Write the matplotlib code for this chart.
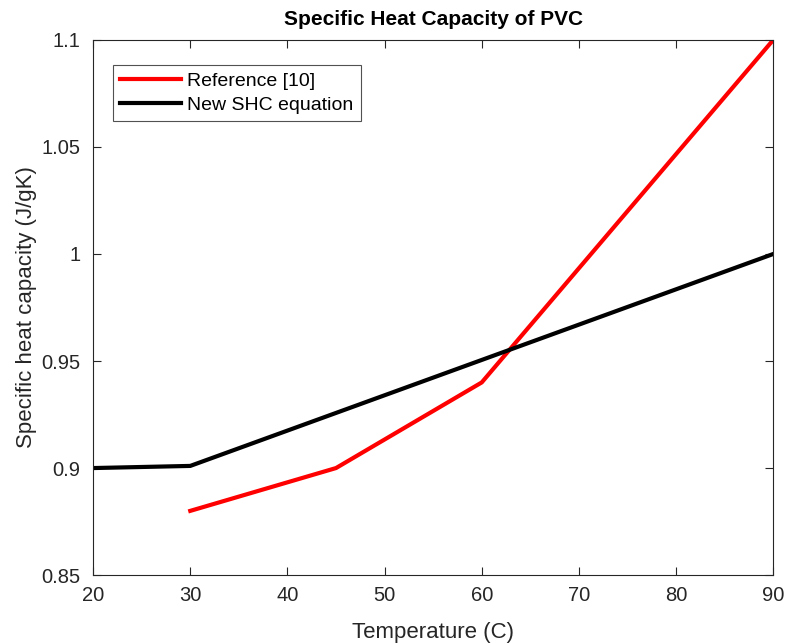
import matplotlib
matplotlib.use("Agg")
import matplotlib.pyplot as plt

plt.rcParams['font.family'] = ['Liberation Sans', 'DejaVu Sans']

# Reference data for PVC specific heat
ref_temp = [30, 45, 60, 90]
ref_shc = [0.88, 0.90, 0.94, 1.10]

# New SHC equation
new_temp = [20, 30, 90]
new_shc = [0.900, 0.901, 1.000]

x_ticks = [20, 30, 40, 50, 60, 70, 80, 90]
y_ticks = [0.85, 0.9, 0.95, 1.0, 1.05, 1.1]
y_tick_labels = ['0.85', '0.9', '0.95', '1', '1.05', '1.1']

fig = plt.figure(figsize=(7.89, 6.44), dpi=100)
ax = fig.add_axes([0.118, 0.107, 0.862, 0.831])

ax.plot(ref_temp, ref_shc, color='#ff0000', lw=3, label='Reference [10]')
ax.plot(new_temp, new_shc, color='#000000', lw=3, label='New SHC equation')

ax.set_xlim(20, 90)
ax.set_ylim(0.85, 1.1)
ax.set_xticks(x_ticks)
ax.set_yticks(y_ticks)
ax.set_yticklabels(y_tick_labels)

ax.tick_params(direction='in', length=6, width=0.8, labelsize=14.5,
               colors='#262626', top=True, right=True, pad=8)
ax.tick_params(axis='y', pad=9)
for s in ax.spines.values():
    s.set_color('#262626')
    s.set_linewidth(0.8)

ax.set_xlabel('Temperature (C)', fontsize=16, color='#262626', labelpad=12)
ax.set_ylabel('Specific heat capacity (J/gK)', fontsize=16, color='#262626', labelpad=3)
ax.set_title('Specific Heat Capacity of PVC', fontsize=15, fontweight='bold', pad=11)

leg = ax.legend(loc='upper left', bbox_to_anchor=(0.029, 0.953), fontsize=14,
                frameon=True, fancybox=False, edgecolor='#262626',
                handlelength=3.15, borderpad=0.38, labelspacing=0.32, handletextpad=0.3,
                borderaxespad=0)
leg.get_frame().set_linewidth(0.8)

fig.savefig('out.png', dpi=100, facecolor='white')
